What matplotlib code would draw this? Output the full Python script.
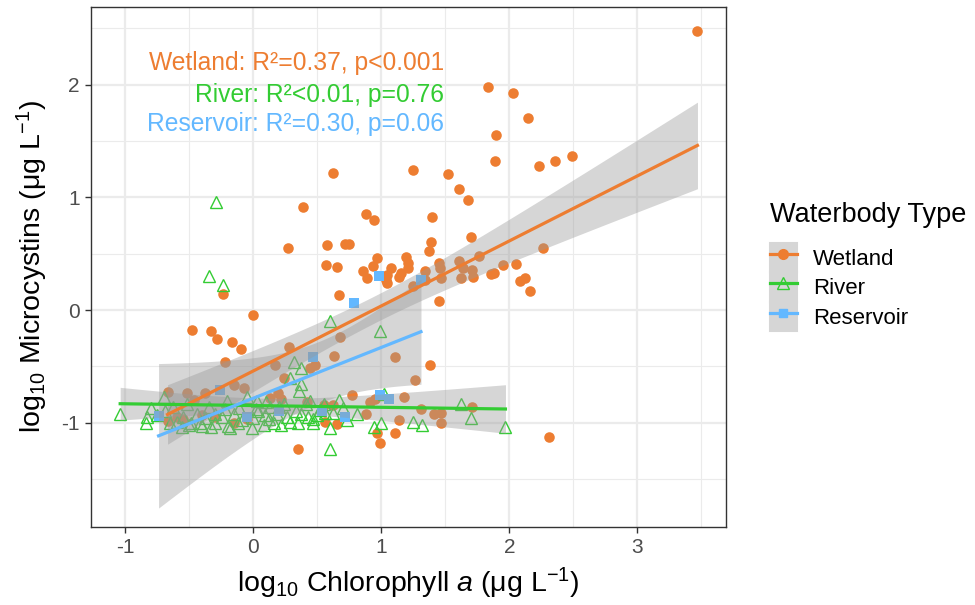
import numpy as np
import matplotlib
matplotlib.use("Agg")
import matplotlib.pyplot as plt
from matplotlib.lines import Line2D
from matplotlib.patches import Patch
from matplotlib.legend_handler import HandlerTuple

plt.rcParams['font.family'] = ['Liberation Sans', 'DejaVu Sans']
plt.rcParams['mathtext.fontset'] = 'custom'
plt.rcParams['mathtext.rm'] = 'Liberation Sans'
plt.rcParams['mathtext.it'] = 'Liberation Sans:italic'

# - DATA (log10 units) - #
wet_x = [3.47, 1.83, 2.03, 2.15, 1.90, 1.89, 2.23, 2.36, 2.49, 0.62, 1.25, 1.52, 1.61, 1.68,
         0.385, 0.88, 0.94, 1.40, 1.70, 1.39, 1.37, 0.27, 0.576, 0.72, 0.75, 0.97, 0.565, 0.656,
         0.935, 0.86, 0.89, 1.045, 1.075, 1.04, 1.045, 1.195, 1.205, 1.21, 1.15, 1.14, 1.25, 1.34,
         1.34, 1.45, 1.455, 1.47, 1.61, 1.635, 1.625, 1.71, 1.72, 1.76, 1.86, 1.88, 1.95, 2.05,
         2.08, 2.12, 2.16, 2.26, 0.67, 1.45,
         -0.24, -0.005, -0.48, -0.33, -0.28, -0.17, -0.10, -0.22, 0.28, 0.17, 0.24, 0.445, 0.485,
         0.63, 0.68, 1.11, 1.38, 1.26,
         -0.67, -0.52, -0.46, -0.38, -0.67, -0.15, -0.07, -0.15, 0.13, 0.19, 0.22, 0.42, 0.55,
         0.62, 0.56, 0.65, 0.35, 0.77, 0.88, 0.91, 0.95, 0.97, 0.99, 1.175, 1.31, 1.41, 1.47,
         1.47, 1.135, 1.11, 1.71, 2.31, -0.55, -0.30, -0.05, -0.60, -0.40]
wet_y = [2.48, 1.98, 1.93, 1.70, 1.55, 1.32, 1.28, 1.32, 1.37, 1.22, 1.245, 1.21, 1.07, 0.98,
         0.917, 0.85, 0.80, 0.83, 0.65, 0.60, 0.52, 0.55, 0.574, 0.583, 0.586, 0.46, 0.40, 0.385,
         0.39, 0.35, 0.28, 0.31, 0.37, 0.27, 0.24, 0.47, 0.42, 0.37, 0.33, 0.29, 0.21, 0.35,
         0.27, 0.42, 0.37, 0.28, 0.435, 0.375, 0.28, 0.355, 0.29, 0.48, 0.32, 0.33, 0.40, 0.41,
         0.26, 0.28, 0.165, 0.55, 0.13, 0.08,
         0.14, -0.04, -0.18, -0.19, -0.26, -0.28, -0.35, -0.46, -0.33, -0.49, -0.60, -0.51, -0.49,
         -0.41, -0.24, -0.42, -0.49, -0.62,
         -0.725, -0.74, -0.80, -0.74, -0.985, -0.665, -0.695, -1.0, -0.78, -0.74, -0.79, -0.82, -0.84,
         -0.84, -0.99, -1.01, -1.23, -0.755, -0.92, -0.82, -0.79, -1.09, -1.18, -0.77, -0.88, -0.92, -0.91,
         -1.005, -0.98, -1.09, -0.86, -1.13, -0.97, -0.95, -0.97, -0.95, -0.93]

riv_x = [-1.04, -0.83, -0.84, -0.70, -0.69, -0.60, -0.52, -0.49, -0.44, -0.375, -0.35, -0.30,
         -0.245, -0.205, -0.18, -0.15, -0.115, -0.09, -0.05, -0.01, 0.0, 0.03, 0.04, 0.08, 0.09,
         0.13, 0.16, 0.185, 0.24, 0.26, 0.29, 0.33, 0.37, 0.41, 0.43, 0.47, 0.52, 0.55,
         -0.29, -0.35, -0.24, 0.60, 0.99, 0.315, 0.375, 0.29, 0.375, 0.36, 0.44,
         1.02, 0.94, 1.0, 0.60, 0.60, 0.67, 0.81, 0.56, 0.47, 0.73, 1.25, 1.32, 1.62, 1.70, 1.97,
         -0.55, -0.42, -0.22, -0.12, 0.02, 0.12, 0.2, 0.35, -0.63, 0.1, -0.3, 0.22, 0.5, 0.62,
         0.7, -0.8, -0.75, -0.65, -0.50, -0.40, -0.20, -0.56, -0.33]
riv_y = [-0.925, -0.95, -1.0, -0.77, -0.90, -0.99, -0.83, -1.005, -0.92, -0.96, -0.86, -1.005,
         -0.95, -0.81, -1.05, -0.92, -0.87, -0.98, -0.77, -1.05, -0.96, -0.81, -0.90, -1.02, -0.93,
         -0.86, -1.005, -0.92, -0.83, -0.95, -0.99, -0.90, -0.92, -0.83, -0.95, -1.005, -0.89, -0.83,
         0.96, 0.30, 0.22, -0.095, -0.19, -0.46, -0.51, -0.60, -0.66, -0.72, -0.81,
         -0.745, -1.035, -1.005, -1.05, -1.23, -0.80, -0.92, -0.91, -0.97, -0.98, -0.99, -1.02,
         -0.83, -0.96, -1.035,
         -0.95, -1.0, -0.88, -1.0, -0.88, -0.97, -0.86, -1.0, -0.86, -0.82, -0.92, -1.02, -0.93,
         -0.91, -0.87, -0.87, -0.93, -1.0, -1.02, -1.03, -1.03, -1.04, -1.04]

res_x = [-0.74, -0.26, 0.47, 0.54, 0.72, 0.79, 0.98, 0.99, 1.06, 1.31, 0.2, -0.05]
res_y = [-0.94, -0.71, -0.42, -0.90, -0.95, 0.065, 0.30, -0.755, -0.79, 0.27, -0.9, -0.95]

groups = ['Wetland', 'River', 'Reservoir']
stats_text = ['Wetland: R\u00b2=0.37, p<0.001', 'River: R\u00b2<0.01, p=0.76',
              'Reservoir: R\u00b2=0.30, p=0.06']
colors = ['#ED7D31', '#33CC33', '#63B8FF']


def t_crit(df):
    # 97.5% t quantile, Cornish-Fisher approximation
    z = 1.959964
    return z + (z**3 + z) / (4 * df) + (5 * z**5 + 16 * z**3 + 3 * z) / (96 * df**2)


def lm_band(x, y):
    x = np.asarray(x); y = np.asarray(y)
    n = len(x)
    b, a = np.polyfit(x, y, 1)
    res = y - (a + b * x)
    s = np.sqrt(np.sum(res**2) / (n - 2))
    sxx = np.sum((x - x.mean())**2)
    xs = np.linspace(x.min(), x.max(), 80)
    yh = a + b * xs
    se = s * np.sqrt(1.0 / n + (xs - x.mean())**2 / sxx)
    t = t_crit(n - 2)
    return xs, yh, yh - t * se, yh + t * se


fig = plt.figure(figsize=(9.75, 6.05), dpi=100)
ax = fig.add_axes([91 / 975, 78 / 605, 635 / 975, 520 / 605])

# points first, smooth ribbons on top (like ggplot layer order)
ax.plot(wet_x, wet_y, 'o', color=colors[0], ms=7.6, mew=0, zorder=2)
ax.plot(riv_x, riv_y, '^', mfc='none', mec=colors[1], ms=9, mew=1.0, zorder=2)
ax.plot(res_x, res_y, 's', color=colors[2], ms=6.8, mew=0, zorder=2)

data = [(wet_x, wet_y), (riv_x, riv_y), (res_x, res_y)]
for (gx, gy), c in zip(data, colors):
    xs, yh, lo, hi = lm_band(gx, gy)
    ax.fill_between(xs, lo, hi, color='#999999', alpha=0.4, lw=0, zorder=3)
    ax.plot(xs, yh, color=c, lw=2.3, zorder=4)

ytxt = [2.19, 1.91, 1.655]
for txt, yy, c in zip(stats_text, ytxt, colors):
    ax.text(1.49, yy, txt, color=c, fontsize=17.7, ha='right', va='center')

ax.set_xticks([-1, 0, 1, 2, 3])
ax.set_yticks([-1, 0, 1, 2])
ax.set_xticks([-0.5, 0.5, 1.5, 2.5, 3.5], minor=True)
ax.set_yticks([-1.5, -0.5, 0.5, 1.5, 2.5], minor=True)
ax.set_xlim(-1.268, 3.693)
ax.set_ylim(-1.925, 2.689)
ax.grid(which='major', color='#EBEBEB', lw=1.6, zorder=0)
ax.grid(which='minor', color='#EBEBEB', lw=0.8, zorder=0)
ax.set_axisbelow(True)
for sp in ax.spines.values():
    sp.set_color('#333333')
    sp.set_linewidth(1.0)
ax.tick_params(which='major', length=4, width=1.0, color='#333333', labelcolor='#4D4D4D',
               labelsize=15, pad=4)
ax.tick_params(which='minor', length=0)
ax.set_xticklabels(['-1', '0', '1', '2', '3'])
ax.set_yticklabels(['-1', '0', '1', '2'])

ax.set_xlabel(r'log$_{10}$ Chlorophyll $\it{a}$ (μg L$^{-1}$)', fontsize=20.5, labelpad=6)
ax.set_ylabel(r'log$_{10}$ Microcystins (μg L$^{-1}$)', fontsize=20.5, labelpad=8)

# legend: title as separate text, gray key behind line + marker
fig.text(770 / 975, 1 - 215 / 605, 'Waterbody Type', fontsize=19.5, va='center', ha='left')
handles = []
mk = [dict(marker='o', mfc=colors[0], mec=colors[0], ms=7),
      dict(marker='^', mfc='none', mec=colors[1], ms=8),
      dict(marker='s', mfc=colors[2], mec=colors[2], ms=6)]
for c, m in zip(colors, mk):
    handles.append((Patch(facecolor='#D6D6D6', edgecolor='#D6D6D6', lw=1.5),
                    Line2D([], [], color=c, lw=2.3, **m)))
fig.legend(handles, groups, loc='upper left',
           bbox_to_anchor=(770 / 975, 1 - 243 / 605), frameon=False, fontsize=16,
           handlelength=1.2, handleheight=1.66, labelspacing=0.0,
           handletextpad=0.75, borderpad=0.0, borderaxespad=0.0,
           handler_map={tuple: HandlerTuple(ndivide=1, pad=0)})

fig.savefig('out.png', dpi=100)
